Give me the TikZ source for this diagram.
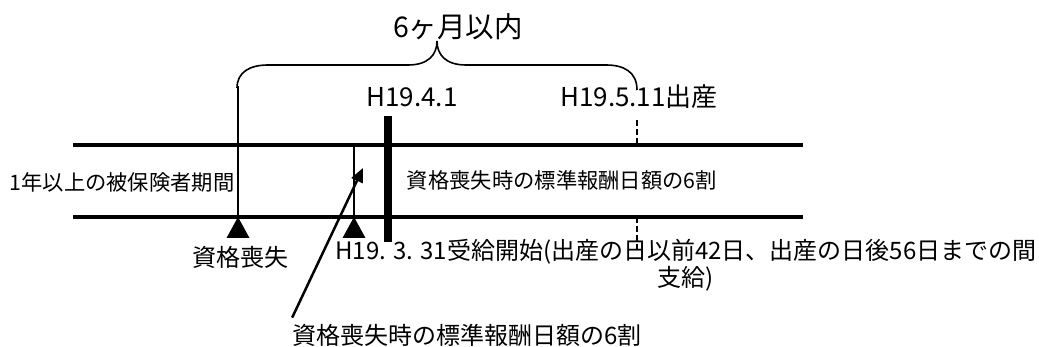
\documentclass[tikz,border=0pt]{standalone}
\usepackage{fontspec}
\setmainfont{Noto Sans CJK JP}
\usetikzlibrary{arrows.meta}

\newcommand{\trimark}[1] % x of the mark in px
{
	% filled triangle hanging from the lower line
	\fill (#1,217) -- (#1-11.5,238) -- (#1+11.5,238) -- cycle;
}

\tikzset{
	lbl/.style={inner sep=0pt, font=\fontsize{21.3}{24}\selectfont},
	datelbl/.style={inner sep=0pt, font=\fontsize{26}{30}\selectfont},
	titlelbl/.style={inner sep=0pt, font=\fontsize{28.5}{32}\selectfont},
	notelbl/.style={inner sep=0pt, font=\fontsize{24}{27}\selectfont},
	band/.style={line width=3.5pt},
	tick/.style={line width=2.3pt},
	dashtick/.style={line width=2.3pt, dash pattern=on 6pt off 3pt}
}

\begin{document}
\begin{tikzpicture}[x=1pt, y=-1pt]
	% canvas 1039 x 347, y running down
	\useasboundingbox (0,0) rectangle (1039,347);

	% the two lines of the period
	\draw[band] (73,145) -- (803,145);
	\draw[band] (73,217) -- (803,217);

	% loss of status, start of benefit
	\draw[tick] (238,86) -- (238,217);
	\draw[tick] (354,145) -- (354,217);
	\trimark{238};
	\trimark{354};

	% H19.4.1
	\fill (384,116) rectangle (392,242);

	% day of birth
	\draw[dashtick] (637,120) -- (637,145);
	\draw[dashtick] (637,217) -- (637,250);

	% brace over six months
	\draw[line width=1.6pt] (237,88) .. controls (237,72) and (250,65) .. (268,65) -- (408,65)
		.. controls (428,65) and (437,55) .. (437,41)
		.. controls (437,55) and (446,65) .. (466,65) -- (606,65)
		.. controls (624,65) and (637,72) .. (637,90);

	% texts
	\node[titlelbl] (period) at (458,27) {6ヶ月以内};
	\node[datelbl] (april) at (412,97) {H19.4.1};
	\node[datelbl] (birth) at (639,97) {H19.5.11出産};
	\node[lbl] (insured) at (122,182) {1年以上の被保険者期間};
	\node[lbl] (benefit) at (562,180) {資格喪失時の標準報酬日額の6割};
	\node[notelbl] (loss) at (240,257) {資格喪失};
	\node[notelbl, align=center] (start) at (686,265) {H19. 3. 31受給開始(出産の日以前42日、出産の日後56日までの間\\支給)};
	\node[notelbl] (note) at (467,335) {資格喪失時の標準報酬日額の6割};

	% pointer from the note
	\coordinate (tip) at (363,168);
	\draw[line width=2.5pt, -{Triangle[length=14pt, width=12pt]}] ([yshift=6pt]note.north west) -- (tip);
\end{tikzpicture}
\end{document}
